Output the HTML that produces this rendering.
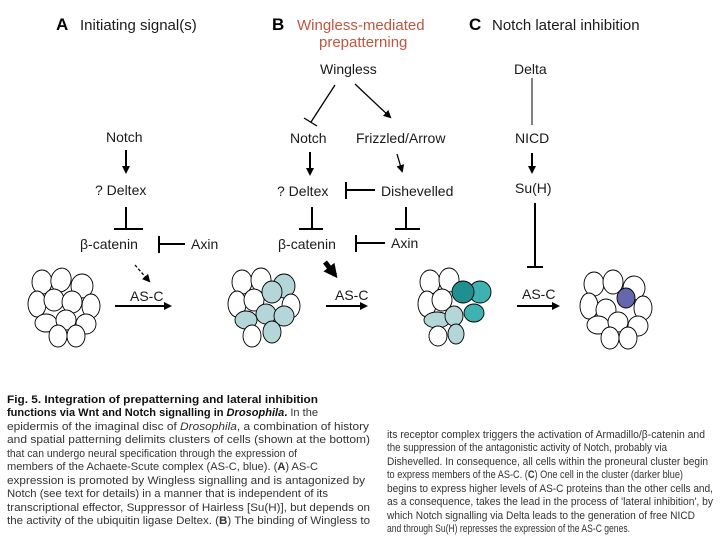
<!DOCTYPE html>
<html><head><meta charset="utf-8"><style>
html,body{margin:0;padding:0;background:#fff;}
svg{display:block;font-family:"Liberation Sans",sans-serif;}
.t{font-size:14px;fill:#1a1a1a;}
.c{font-size:11px;fill:#333;}
.cl ellipse{stroke:#000;stroke-width:0.9;}
</style></head><body>
<svg width="720" height="540" viewBox="0 0 720 540">
<defs>
<marker id="ah" markerWidth="8" markerHeight="8" refX="6" refY="4" orient="auto" markerUnits="userSpaceOnUse"><path d="M0,0 L8,4 L0,8 z" fill="#000"/></marker>
<marker id="ahb" markerWidth="14" markerHeight="14" refX="10" refY="7" orient="auto" markerUnits="userSpaceOnUse"><path d="M0,0 L14,7 L0,14 z" fill="#000"/></marker>
</defs>
<text x="56" y="30" style="font-size:17px;font-weight:bold">A</text>
<text x="80" y="30" class="t" style="font-size:15px">Initiating signal(s)</text>
<text x="272" y="30" style="font-size:17px;font-weight:bold">B</text>
<text x="297" y="30" style="font-size:15px;fill:#c0553f">Wingless-mediated</text>
<text x="319" y="47" style="font-size:15px;fill:#c0553f">prepatterning</text>
<text x="469" y="30" style="font-size:17px;font-weight:bold">C</text>
<text x="492" y="30" class="t" style="font-size:15px">Notch lateral inhibition</text>

<g stroke="#000" stroke-width="2" fill="none">
<line x1="126" y1="150" x2="126" y2="172" marker-end="url(#ah)"/>
<line x1="126" y1="207" x2="126" y2="229"/><line x1="114" y1="229" x2="143" y2="229"/>
<line x1="159" y1="236" x2="159" y2="253"/><line x1="159" y1="244" x2="185" y2="244"/>
<line x1="135" y1="265" x2="149" y2="281" stroke-width="1.3" stroke-dasharray="3,2" marker-end="url(#ah)"/>
<line x1="115" y1="306" x2="170" y2="306" marker-end="url(#ah)"/>
<line x1="335" y1="85" x2="311" y2="122" stroke-width="1.3"/><line x1="304" y1="118" x2="317" y2="126" stroke-width="1.3"/>
<line x1="355" y1="84" x2="390" y2="117" stroke-width="1.3" marker-end="url(#ah)"/>
<line x1="310" y1="152" x2="310" y2="174" marker-end="url(#ah)"/>
<line x1="397" y1="154" x2="402" y2="171" stroke-width="1.3" marker-end="url(#ah)"/>
<line x1="346" y1="182" x2="346" y2="199"/><line x1="346" y1="190" x2="375" y2="190"/>
<line x1="312" y1="207" x2="312" y2="229"/><line x1="299" y1="229" x2="323" y2="229"/>
<line x1="406" y1="207" x2="406" y2="229"/><line x1="395" y1="229" x2="420" y2="229"/>
<line x1="356" y1="235" x2="356" y2="252"/><line x1="356" y1="243" x2="385" y2="243"/>
<line x1="325" y1="262" x2="335" y2="275" stroke-width="5" marker-end="url(#ahb)"/>
<line x1="326" y1="306" x2="366" y2="306" marker-end="url(#ah)"/>
<line x1="532" y1="78" x2="532" y2="125" stroke-width="1"/>
<line x1="532" y1="153" x2="532" y2="172" marker-end="url(#ah)"/>
<line x1="535" y1="203" x2="535" y2="267"/><line x1="527" y1="267" x2="543" y2="267"/>
<line x1="517" y1="306" x2="558" y2="306" marker-end="url(#ah)"/>
</g>

<g class="t">
<text x="106" y="142">Notch</text>
<text x="95" y="195">? Deltex</text>
<text x="80" y="249">β-catenin</text>
<text x="191" y="249">Axin</text>
<text x="130" y="301">AS-C</text>
<text x="320" y="74">Wingless</text>
<text x="290" y="143">Notch</text>
<text x="356" y="143">Frizzled/Arrow</text>
<text x="277" y="196">? Deltex</text>
<text x="381" y="196">Dishevelled</text>
<text x="278" y="249">β-catenin</text>
<text x="391" y="248">Axin</text>
<text x="335" y="300">AS-C</text>
<text x="514" y="74">Delta</text>
<text x="515" y="143">NICD</text>
<text x="515" y="193">Su(H)</text>
<text x="522" y="299">AS-C</text>
</g>

<g class="cl" fill="#fff">
<g transform="translate(64,306)">
<ellipse cx="-22" cy="-24" rx="10" ry="12" fill="#fff"/><ellipse cx="-3" cy="-26" rx="10" ry="12" transform="rotate(15 -3 -26)" fill="#fff"/><ellipse cx="18" cy="-20" rx="11" ry="12" fill="#fff"/>
<ellipse cx="-27" cy="-2" rx="9" ry="13" fill="#fff"/><ellipse cx="-10" cy="-6" rx="10" ry="11" fill="#fff"/><ellipse cx="8" cy="-4" rx="10" ry="11" fill="#fff"/><ellipse cx="27" cy="0" rx="9" ry="12" fill="#fff"/>
<ellipse cx="-18" cy="17" rx="11" ry="9" fill="#fff"/><ellipse cx="2" cy="14" rx="10" ry="10" fill="#fff"/><ellipse cx="22" cy="18" rx="10" ry="10" fill="#fff"/>
<ellipse cx="-6" cy="30" rx="9" ry="11" fill="#fff"/><ellipse cx="12" cy="30" rx="9" ry="11" fill="#fff"/>
</g>
<g transform="translate(264,306)">
<ellipse cx="-22" cy="-24" rx="10" ry="12" fill="#fff"/><ellipse cx="-3" cy="-26" rx="10" ry="12" fill="#fff"/><ellipse cx="20" cy="-20" rx="11" ry="12" fill="#b5d6d9"/>
<ellipse cx="-27" cy="-2" rx="9" ry="13" fill="#fff"/><ellipse cx="-10" cy="-6" rx="10" ry="11" fill="#fff"/><ellipse cx="8" cy="-14" rx="10" ry="11" fill="#b5d6d9"/><ellipse cx="27" cy="0" rx="9" ry="12" fill="#fff"/>
<ellipse cx="-18" cy="14" rx="11" ry="9" fill="#b5d6d9"/><ellipse cx="2" cy="8" rx="10" ry="10" fill="#b5d6d9"/><ellipse cx="20" cy="10" rx="10" ry="10" fill="#b5d6d9"/>
<ellipse cx="-12" cy="30" rx="9" ry="11" fill="#fff"/><ellipse cx="8" cy="26" rx="9" ry="11" fill="#b5d6d9"/>
</g>
<g transform="translate(452,306)">
<ellipse cx="-22" cy="-24" rx="10" ry="12" fill="#fff"/><ellipse cx="-3" cy="-26" rx="10" ry="12" fill="#fff"/><ellipse cx="28" cy="-14" rx="11" ry="11" fill="#3fb1b1"/>
<ellipse cx="-25" cy="-2" rx="9" ry="13" fill="#fff"/><ellipse cx="-10" cy="-6" rx="10" ry="11" fill="#fff"/><ellipse cx="11" cy="-14" rx="11" ry="11" fill="#1f8f90"/>
<ellipse cx="-15" cy="14" rx="13" ry="8" fill="#b5d6d9"/><ellipse cx="2" cy="10" rx="9" ry="10" fill="#b5d6d9"/><ellipse cx="22" cy="7" rx="10" ry="9" fill="#3fb1b1"/>
<ellipse cx="-14" cy="30" rx="9" ry="10" fill="#fff"/><ellipse cx="4" cy="28" rx="8" ry="10" fill="#b5d6d9"/>
</g>
<g transform="translate(616,308)">
<ellipse cx="-22" cy="-24" rx="10" ry="12" fill="#fff"/><ellipse cx="-3" cy="-26" rx="10" ry="12" fill="#fff"/><ellipse cx="18" cy="-20" rx="11" ry="12" fill="#fff"/>
<ellipse cx="-27" cy="-2" rx="9" ry="13" fill="#fff"/><ellipse cx="-10" cy="2" rx="10" ry="11" fill="#fff"/><ellipse cx="10" cy="-10" rx="9" ry="10" fill="#6466ae"/><ellipse cx="27" cy="0" rx="9" ry="12" fill="#fff"/>
<ellipse cx="-18" cy="17" rx="11" ry="9" fill="#fff"/><ellipse cx="2" cy="14" rx="10" ry="10" fill="#fff"/><ellipse cx="22" cy="18" rx="10" ry="10" fill="#fff"/>
<ellipse cx="-6" cy="30" rx="9" ry="11" fill="#fff"/><ellipse cx="12" cy="30" rx="9" ry="11" fill="#fff"/>
</g>
</g>

<g class="c">
<text x="7" y="403" textLength="311" lengthAdjust="spacingAndGlyphs" style="font-weight:bold;fill:#111">Fig. 5. Integration of prepatterning and lateral inhibition</text>
<text x="7" y="416" textLength="311" lengthAdjust="spacingAndGlyphs"><tspan style="font-weight:bold;fill:#111">functions via Wnt and Notch signalling in <tspan font-style="italic">Drosophila</tspan>.</tspan> In the</text>
<text x="7" y="430" textLength="362" lengthAdjust="spacingAndGlyphs">epidermis of the imaginal disc of <tspan font-style="italic">Drosophila</tspan>, a combination of history</text>
<text x="7" y="443" textLength="363" lengthAdjust="spacingAndGlyphs">and spatial patterning delimits clusters of cells (shown at the bottom)</text>
<text x="7" y="457" textLength="290" lengthAdjust="spacingAndGlyphs">that can undergo neural specification through the expression of</text>
<text x="7" y="470" textLength="311" lengthAdjust="spacingAndGlyphs">members of the Achaete-Scute complex (AS-C, blue). (<tspan font-weight="bold">A</tspan>) AS-C</text>
<text x="7" y="484" textLength="358" lengthAdjust="spacingAndGlyphs">expression is promoted by Wingless signalling and is antagonized by</text>
<text x="7" y="497" textLength="321" lengthAdjust="spacingAndGlyphs">Notch (see text for details) in a manner that is independent of its</text>
<text x="7" y="511" textLength="363" lengthAdjust="spacingAndGlyphs">transcriptional effector, Suppressor of Hairless [Su(H)], but depends on</text>
<text x="7" y="524" textLength="363" lengthAdjust="spacingAndGlyphs">the activity of the ubiquitin ligase Deltex. (<tspan font-weight="bold">B</tspan>) The binding of Wingless to</text>
</g>
<g class="c">
<text x="387" y="438" textLength="318" lengthAdjust="spacingAndGlyphs">its receptor complex triggers the activation of Armadillo/β-catenin and</text>
<text x="387" y="451" textLength="280" lengthAdjust="spacingAndGlyphs">the suppression of the antagonistic activity of Notch, probably via</text>
<text x="387" y="465" textLength="321" lengthAdjust="spacingAndGlyphs">Dishevelled. In consequence, all cells within the proneural cluster begin</text>
<text x="387" y="478" textLength="296" lengthAdjust="spacingAndGlyphs">to express members of the AS-C. (<tspan font-weight="bold">C</tspan>) One cell in the cluster (darker blue)</text>
<text x="387" y="492" textLength="326" lengthAdjust="spacingAndGlyphs">begins to express higher levels of AS-C proteins than the other cells and,</text>
<text x="387" y="505" textLength="326" lengthAdjust="spacingAndGlyphs">as a consequence, takes the lead in the process of 'lateral inhibition', by</text>
<text x="387" y="519" textLength="308" lengthAdjust="spacingAndGlyphs">which Notch signalling via Delta leads to the generation of free NICD</text>
<text x="387" y="532" textLength="243" lengthAdjust="spacingAndGlyphs">and through Su(H) represses the expression of the AS-C genes.</text>
</g>
</svg>
</body></html>
